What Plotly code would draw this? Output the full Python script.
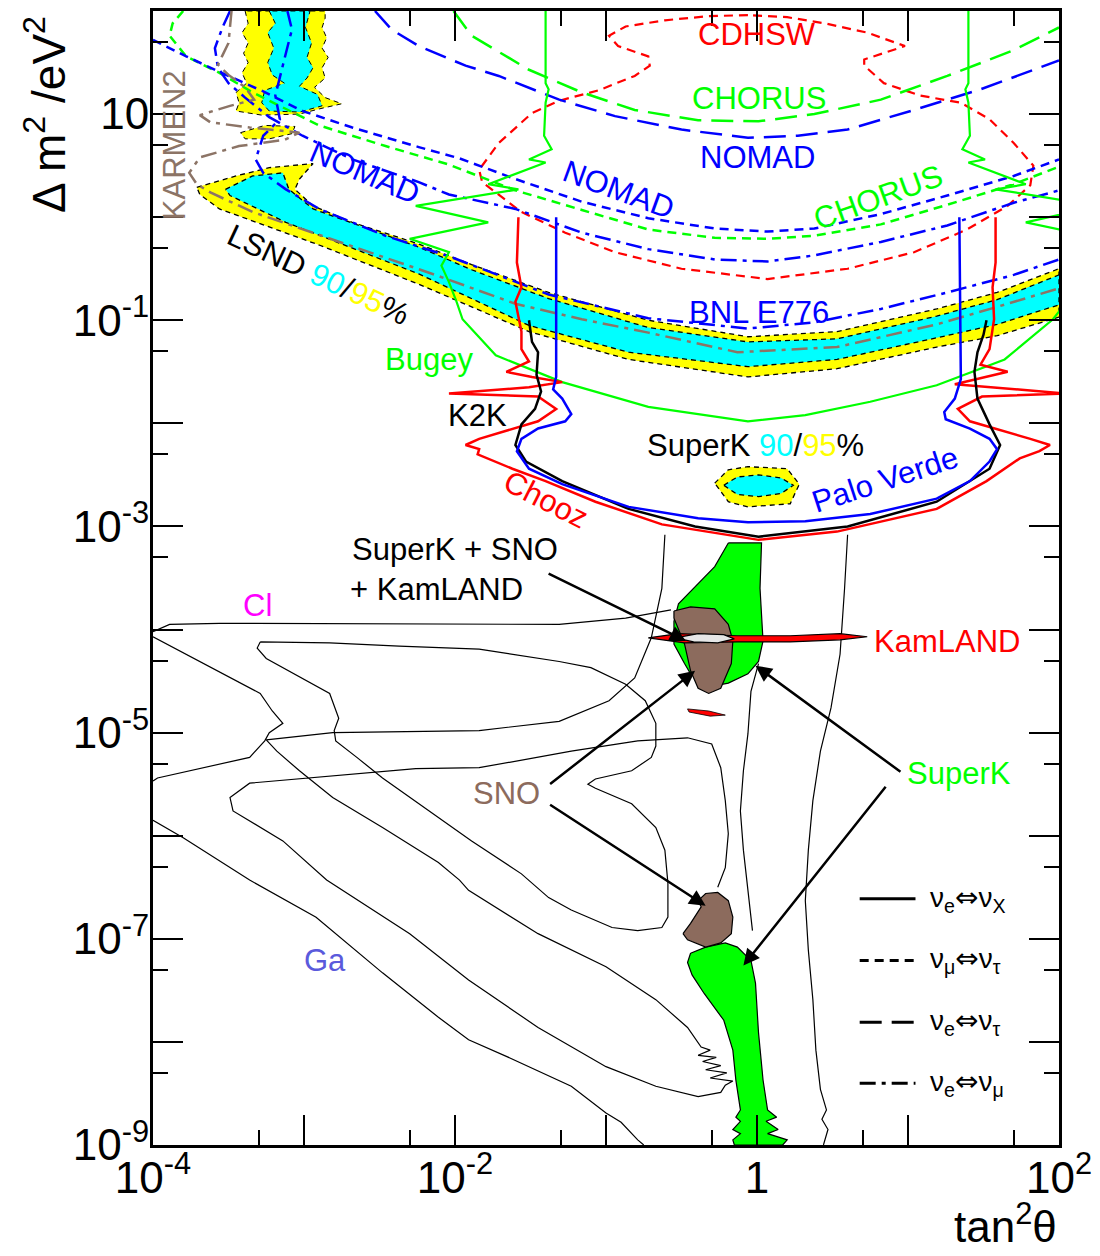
import plotly.graph_objects as go

FONT = "Liberation Sans, Arial, Helvetica, sans-serif"
GREEN, BLUE, RED = "#00FF00", "#0000FF", "#FF0000"
CYAN, YELLOW = "#00FFFF", "#FFFF00"
SNO_BROWN, K_BROWN = "#8C6B5D", "#8C7466"

# ---------------- data: (log10 tan^2(theta), log10 dm^2/eV^2) ----------------
CDHSW = [(-0.06,1.96),(-0.32,1.95),(-0.61,1.91),(-0.87,1.85),(-0.98,1.76),(-0.92,1.66),(-0.72,1.56),
         (-0.71,1.47),(-0.81,1.37),(-1.05,1.23),(-1.31,1.13),(-1.49,1.01),(-1.71,0.72),(-1.84,0.46),
         (-1.82,0.34),(-1.56,0.05),(-1.27,-0.15),(-0.94,-0.34),(-0.50,-0.50),(0.07,-0.60),(0.60,-0.50),
         (1.04,-0.34),(1.39,-0.12),(1.66,0.11),(1.81,0.31),(1.83,0.50),(1.70,0.72),(1.54,0.95),
         (1.35,1.11),(1.08,1.18),(0.84,1.30),(0.71,1.47),(0.71,1.53),(0.98,1.66),(0.73,1.79),
         (0.45,1.88),(0.20,1.94),(-0.06,1.96)]
CHORUS_ETAU = [(-2.01,2.00),(-1.89,1.76),(-1.51,1.43),(-1.16,1.21),(-0.81,1.04),(-0.39,0.94),(0.01,0.93),
               (0.38,1.00),(0.82,1.14),(1.26,1.37),(1.70,1.62),(2.00,1.84)]
NOMAD_ETAU = [(-2.53,2.00),(-2.42,1.82),(-2.24,1.66),(-1.93,1.47),(-1.71,1.37),(-1.31,1.14),(-0.94,0.98),
              (-0.50,0.85),(-0.06,0.77),(0.27,0.79),(0.60,0.85),(1.04,1.04),(1.48,1.24),(2.00,1.52)]
CHORUS_MUTAU = [(-3.80,2.00),(-3.87,1.88),(-3.89,1.76),(-3.78,1.56),(-3.56,1.40),(-3.34,1.21),(-2.90,0.89),
                (-2.46,0.69),(-2.04,0.51),(-1.60,0.26),(-1.16,0.07),(-0.72,-0.12),(-0.28,-0.20),(0.07,-0.21),
                (0.38,-0.18),(0.82,-0.07),(1.26,0.12),(1.70,0.32),(2.00,0.49)]
NOMAD_MUTAU = [(-4.00,1.72),(-3.78,1.56),(-3.56,1.41),(-3.27,1.22),(-3.01,1.03),(-2.68,0.87),(-2.24,0.68),
               (-1.97,0.57),(-1.60,0.37),(-1.16,0.15),(-0.72,-0.01),(-0.28,-0.11),(0.07,-0.14),(0.38,-0.11),
               (0.82,0.03),(1.26,0.21),(1.70,0.40),(2.00,0.56)]
NOMAD_EMU = [(-3.49,2.00),(-3.54,1.84),(-3.59,1.64),(-3.57,1.45),(-3.50,1.30),(-3.39,1.16),(-3.23,0.97),
             (-3.01,0.79),(-2.68,0.56),(-2.24,0.34),(-2.04,0.22),(-1.60,0.08),(-1.16,-0.15),(-0.72,-0.31),
             (-0.28,-0.41),(0.07,-0.43),(0.38,-0.37),(0.82,-0.24),(1.26,-0.08),(1.70,0.14),(2.00,0.26)]
BNL_E776 = [(-3.11,2.00),(-3.08,1.82),(-3.12,1.59),(-3.16,1.37),(-3.19,1.18),(-3.16,0.95),(-3.27,0.79),
            (-3.32,0.56),(-3.27,0.43),(-3.12,0.27),(-2.90,0.08),(-2.46,-0.18),(-2.02,-0.39),(-1.38,-0.75),
            (-0.72,-0.98),(-0.06,-1.08),(0.38,-1.02),(0.82,-0.89),(1.26,-0.73),(1.70,-0.56),(2.00,-0.41)]
KARMEN2 = [(-3.48,2.00),(-3.49,1.84),(-3.50,1.69),(-3.54,1.57),(-3.57,1.48),(-3.50,1.38),(-3.39,1.26),
           (-3.33,1.14),(-3.49,1.08),(-3.69,0.99),(-3.62,0.92),(-3.36,0.87),(-3.03,0.82),(-3.13,0.75),
           (-3.43,0.69),(-3.69,0.58),(-3.76,0.43),(-3.71,0.32),(-3.62,0.24),(-3.34,0.05),(-2.83,-0.21),
           (-2.13,-0.56),(-1.60,-0.84),(-1.16,-0.99),(-0.72,-1.12),(-0.13,-1.31),(0.53,-1.26),
           (1.19,-1.04),(1.59,-0.87),(2.00,-0.69)]
LSND_95 = [(-3.71,0.29),(-3.45,0.40),(-3.23,0.48),(-2.94,0.52),(-3.03,0.37),(-3.06,0.27),(-2.94,0.11),
           (-2.68,-0.05),(-2.24,-0.26),(-1.89,-0.46),(-1.38,-0.73),(-0.72,-1.00),(-0.06,-1.16),(0.53,-1.11),
           (1.19,-0.89),(1.59,-0.73),(2.00,-0.50),(2.00,-0.97),(1.59,-1.15),(1.19,-1.26),(0.53,-1.47),
           (-0.06,-1.55),(-0.85,-1.38),(-1.51,-1.11),(-1.89,-0.87),(-2.24,-0.65),(-2.90,-0.27),
           (-3.56,0.08),(-3.69,0.22)]
LSND_90 = [(-3.52,0.27),(-3.34,0.40),(-3.14,0.43),(-3.10,0.27),(-2.94,0.08),(-2.24,-0.29),(-1.89,-0.51),
           (-1.38,-0.79),(-0.72,-1.07),(-0.06,-1.21),(0.53,-1.18),(1.19,-0.96),(1.59,-0.80),(2.00,-0.56),
           (2.00,-0.85),(1.59,-1.04),(1.19,-1.17),(0.53,-1.38),(-0.06,-1.45),(-0.85,-1.31),(-1.51,-1.05),
           (-1.89,-0.79),(-2.24,-0.55),(-3.12,-0.05),(-3.49,0.21)]
LSND_95_HIGH = [(-3.39,2.00),(-3.37,1.88),(-3.41,1.79),(-3.37,1.69),(-3.40,1.59),(-3.37,1.50),(-3.41,1.40),
                (-3.38,1.30),(-3.45,1.21),(-3.43,1.11),(-3.45,1.03),(-3.28,0.99),(-3.03,1.00),(-2.90,1.05),
                (-2.75,1.10),(-2.86,1.16),(-2.93,1.26),(-2.86,1.35),(-2.88,1.45),(-2.84,1.55),(-2.88,1.64),
                (-2.85,1.74),(-2.88,1.84),(-2.86,1.93),(-2.86,2.00)]
LSND_90_HIGH = [(-3.23,2.00),(-3.19,1.88),(-3.24,1.79),(-3.20,1.64),(-3.24,1.50),(-3.21,1.38),(-3.13,1.30),
                (-3.26,1.23),(-3.28,1.11),(-3.23,1.03),(-3.03,1.02),(-2.88,1.08),(-2.91,1.19),(-3.03,1.27),
                (-2.98,1.35),(-2.94,1.45),(-2.98,1.55),(-2.95,1.69),(-2.99,1.84),(-2.96,2.00)]
LSND_95_SLIVER = [(-3.42,0.82),(-3.26,0.89),(-3.06,0.88),(-3.08,0.81),(-3.23,0.76),(-3.39,0.76)]
SK_ATM_95 = [(-0.28,-2.58),(-0.19,-2.45),(-0.06,-2.42),(0.20,-2.44),(0.28,-2.59),(0.22,-2.78),
             (-0.06,-2.81),(-0.19,-2.76)]
SK_ATM_90 = [(-0.22,-2.60),(-0.13,-2.52),(0.01,-2.50),(0.16,-2.53),(0.24,-2.60),(0.16,-2.68),
             (0.01,-2.71),(-0.13,-2.69)]
PALO_VERDE = [(-1.33,0.00),(-1.33,-1.55),(-1.35,-1.67),(-1.29,-1.76),(-1.23,-1.91),(-1.27,-1.98),
              (-1.45,-2.05),(-1.56,-2.15),(-1.59,-2.27),(-1.51,-2.44),(-1.29,-2.59),(-0.85,-2.81),
              (-0.39,-2.92),(-0.06,-2.96),(0.32,-2.95),(0.75,-2.88),(1.19,-2.73),(1.41,-2.56),(1.54,-2.37),
              (1.59,-2.25),(1.54,-2.15),(1.41,-2.05),(1.25,-1.96),(1.24,-1.89),(1.31,-1.76),(1.35,-1.57),
              (1.34,0.00)]
K2K = [(-1.51,-1.00),(-1.49,-1.21),(-1.45,-1.31),(-1.46,-1.53),(-1.43,-1.69),(-1.47,-1.86),(-1.56,-2.01),
       (-1.60,-2.21),(-1.53,-2.37),(-1.29,-2.56),(-0.85,-2.83),(-0.41,-3.00),(0.01,-3.10),(0.60,-3.00),
       (1.19,-2.76),(1.54,-2.44),(1.61,-2.21),(1.54,-2.01),(1.46,-1.76),(1.44,-1.50),(1.46,-1.31),
       (1.50,-1.14),(1.52,-1.00)]
CHOOZ = [(-1.58,0.00),(-1.59,-0.44),(-1.56,-0.68),(-1.60,-0.82),(-1.56,-1.11),(-1.56,-1.28),(-1.51,-1.40),
         (-1.66,-1.50),(-1.49,-1.55),(-1.29,-1.60),(-1.51,-1.65),(-2.04,-1.71),(-1.45,-1.74),(-1.33,-1.86),
         (-1.45,-1.98),(-1.84,-2.15),(-1.93,-2.21),(-1.84,-2.25),(-1.85,-2.30),(-1.62,-2.44),(-1.40,-2.56),
         (-1.07,-2.76),(-0.63,-2.98),(0.01,-3.13),(0.53,-3.05),(1.19,-2.83),(1.52,-2.56),(1.74,-2.34),
         (1.87,-2.27),(1.94,-2.21),(1.81,-2.15),(1.41,-1.98),(1.33,-1.86),(1.49,-1.74),(2.04,-1.71),
         (1.31,-1.62),(1.66,-1.50),(1.48,-1.43),(1.54,-1.28),(1.57,-0.99),(1.56,-0.68),(1.58,-0.44),
         (1.58,0.00)]
BUGEY = [(-1.40,2.00),(-1.40,1.30),(-1.38,1.24),(-1.40,1.11),(-1.41,0.79),(-1.36,0.66),(-1.51,0.56),
         (-1.40,0.53),(-1.78,0.32),(-1.58,0.27),(-2.26,0.11),(-1.78,-0.05),(-2.30,-0.21),(-2.04,-0.34),
         (-2.09,-0.47),(-2.04,-0.63),(-1.99,-0.82),(-1.95,-0.99),(-1.73,-1.34),(-1.51,-1.47),(-1.29,-1.60),
         (-0.72,-1.84),(-0.06,-1.98),(0.32,-1.92),(0.75,-1.79),(1.19,-1.63),(1.64,-1.38),(1.96,-0.99),
         (2.05,-0.82),(2.09,-0.47),(2.30,-0.21),(1.78,-0.05),(2.26,0.11),(1.58,0.27),(1.78,0.32),
         (1.40,0.53),(1.51,0.56),(1.36,0.66),(1.41,0.79),(1.40,1.11),(1.38,1.24),(1.40,1.30),(1.40,2.00)]

# solar-neutrino region
SK_LMA = [(-0.19,-3.16),(0.03,-3.16),(0.02,-3.60),(0.04,-4.11),(0.01,-4.31),(-0.06,-4.43),(-0.19,-4.52),
          (-0.30,-4.55),(-0.44,-4.43),(-0.48,-4.33),(-0.55,-4.14),(-0.55,-3.92),(-0.52,-3.75),
          (-0.37,-3.53),(-0.28,-3.39)]
SNO_LMA = [(-0.55,-3.82),(-0.44,-3.78),(-0.28,-3.80),(-0.19,-3.95),(-0.16,-4.11),(-0.17,-4.33),
           (-0.24,-4.57),(-0.32,-4.62),(-0.39,-4.57),(-0.44,-4.40),(-0.48,-4.14),(-0.55,-3.89)]
KAMLAND = [(-0.72,-4.08),(-0.52,-4.04),(-0.13,-4.06),(0.22,-4.06),(0.55,-4.04),(0.73,-4.07),(0.55,-4.10),
           (0.22,-4.12),(-0.13,-4.12),(-0.48,-4.13)]
KAMLAND_ISLAND = [(-0.46,-4.77),(-0.32,-4.79),(-0.21,-4.83),(-0.31,-4.84),(-0.45,-4.80)]
COMBINED = [(-0.54,-4.08),(-0.39,-4.04),(-0.22,-4.05),(-0.15,-4.09),(-0.26,-4.13),(-0.42,-4.12)]
SNO_LOW = [(-0.49,-6.95),(-0.44,-6.85),(-0.37,-6.69),(-0.39,-6.63),(-0.34,-6.56),(-0.26,-6.55),
           (-0.19,-6.63),(-0.16,-6.79),(-0.17,-6.95),(-0.24,-7.04),(-0.34,-7.08),(-0.46,-7.01)]
SK_LOW = [(-0.44,-7.14),(-0.34,-7.08),(-0.21,-7.04),(-0.13,-7.08),(-0.04,-7.21),(-0.01,-7.43),
          (0.01,-7.91),(0.04,-8.37),(0.07,-8.66),(0.13,-8.73),(0.06,-8.77),(0.14,-8.85),(0.07,-8.89),
          (0.20,-8.95),(0.17,-9.00),(-0.15,-9.00),(-0.16,-8.95),(-0.11,-8.89),(-0.16,-8.85),(-0.11,-8.77),
          (-0.14,-8.73),(-0.11,-8.66),(-0.14,-8.37),(-0.16,-8.08),(-0.22,-7.79),(-0.35,-7.53),
          (-0.43,-7.35),(-0.46,-7.23)]
CL_A = [(-4.00,-4.02),(-3.89,-3.95),(-3.56,-3.94),(-1.84,-3.95),(-1.31,-3.95),(-0.87,-3.89),(-0.57,-3.81)]
CL_B = [(-4.00,-4.07),(-3.91,-4.14),(-3.58,-4.40),(-3.29,-4.62),(-3.21,-4.79),(-3.14,-4.91),(-3.23,-5.00),
        (-3.26,-5.08),(-3.36,-5.24),(-3.97,-5.44),(-4.00,-5.47)]
CL_LOOP = [(-3.29,-4.12),(-2.83,-4.13),(-2.37,-4.16),(-1.84,-4.19),(-1.31,-4.31),(-1.10,-4.37),(-0.87,-4.53),
           (-0.74,-4.69),(-0.67,-4.91),(-0.67,-5.13),(-0.70,-5.24),(-0.83,-5.37),(-1.07,-5.45),(-1.12,-5.50),
           (-1.07,-5.54),(-0.83,-5.69),(-0.67,-5.92),(-0.61,-6.14),(-0.59,-6.46),(-0.59,-6.79),(-0.63,-6.89),
           (-0.79,-6.92),(-0.96,-6.89),(-1.23,-6.72),(-1.38,-6.60),(-1.56,-6.37),(-1.89,-6.05),(-2.11,-5.82),
           (-2.48,-5.44),(-2.65,-5.24),(-2.79,-5.08),(-2.80,-4.98),(-2.77,-4.86),(-2.83,-4.62),(-3.25,-4.28),
           (-3.31,-4.18),(-3.29,-4.12)]
GA_D = [(-0.61,-3.08),(-0.63,-3.60),(-0.70,-4.08),(-0.81,-4.47),(-0.98,-4.69),(-1.31,-4.89),(-1.84,-4.98),
        (-2.81,-5.00),(-3.25,-5.07),(-3.18,-5.18),(-3.03,-5.37),(-2.81,-5.63),(-2.48,-5.92),(-2.11,-6.26),
        (-1.97,-6.43),(-1.91,-6.53),(-1.45,-6.95),(-1.00,-7.27),(-0.67,-7.59),(-0.46,-7.86),(-0.37,-8.05),
        (-0.31,-8.08),(-0.39,-8.13),(-0.27,-8.15),(-0.36,-8.19),(-0.24,-8.23),(-0.34,-8.27),(-0.20,-8.30),
        (-0.31,-8.35),(-0.16,-8.38),(-0.21,-8.42),(-0.24,-8.49),(-0.39,-8.53),(-0.67,-8.43),(-1.00,-8.24),
        (-1.45,-7.86),(-1.91,-7.40),(-2.19,-7.08),(-2.30,-6.95),(-2.85,-6.43),(-3.14,-6.05),(-3.47,-5.76),
        (-3.49,-5.63),(-3.36,-5.49),(-2.26,-5.35),(-1.84,-5.34),(-1.23,-5.18),(-0.79,-5.08),(-0.46,-5.05),
        (-0.30,-5.11),(-0.24,-5.34),(-0.21,-5.66),(-0.19,-5.98),(-0.21,-6.31),(-0.26,-6.50)]
GA_F = [(-4.00,-5.85),(-3.80,-6.02),(-3.36,-6.43),(-3.14,-6.61),(-2.92,-6.79),(-2.48,-7.33),(-2.11,-7.76),
        (-1.91,-7.98),(-1.66,-8.14),(-1.23,-8.43),(-1.00,-8.69),(-0.90,-8.78),(-0.79,-8.95),(-0.75,-9.00)]
SOL_R = [(0.60,-3.08),(0.58,-3.60),(0.55,-4.24),(0.49,-4.76),(0.42,-5.18),(0.37,-5.66),(0.34,-6.14),
         (0.32,-6.63),(0.34,-7.11),(0.37,-7.59),(0.39,-8.08),(0.42,-8.46),(0.46,-8.66),(0.43,-8.75),
         (0.47,-8.85),(0.44,-9.00)]
SOL_M = [(0.01,-4.33),(-0.04,-4.60),(-0.06,-5.01),(-0.09,-5.37),(-0.11,-5.76),(-0.09,-6.14),(-0.06,-6.53),
         (-0.03,-6.92)]

# arrows: (head lx, head ly, tail lx, tail ly)
ARROWS = [(-0.47,-4.11,-1.39,-3.45), (-0.41,-4.40,-1.38,-5.51), (-0.34,-6.68,-1.38,-5.69),
          (-0.01,-4.35,0.96,-5.39), (-0.09,-7.26,0.86,-5.51)]

# labels: (text, lx, ly, color, angle)
LABELS = [
    ("CDHSW", 0.00, 1.77, RED, 0), ("CHORUS", 0.01, 1.15, GREEN, 0), ("NOMAD", 0.00, 0.58, BLUE, 0),
    ("NOMAD", -0.92, 0.27, BLUE, 20), ("CHORUS", 0.80, 0.19, GREEN, -20), ("NOMAD", -2.60, 0.43, BLUE, 23),
    ("BNL E776", 0.01, -0.92, BLUE, 0), ("Bugey", -2.17, -1.38, GREEN, 0), ("K2K", -1.85, -1.92, "black", 0),
    ("SuperK <span style='color:#00FFFF'>90</span>/<span style='color:#FFFF00'>95</span>%", -0.01, -2.21, "black", 0),
    ("Palo Verde", 0.85, -2.54, BLUE, -18), ("Chooz", -1.40, -2.74, RED, 27),
    ("LSND <span style='color:#00FFFF'>90</span>/<span style='color:#FFFF00'>95</span>%", -2.91, -0.56, "black", 25),
    ("KARMEN2", -3.86, 0.70, K_BROWN, -90),
    ("SuperK + SNO", -2.00, -3.22, "black", 0), ("+ KamLAND", -2.12, -3.61, "black", 0),
    ("KamLAND", 1.26, -4.12, RED, 0), ("SuperK", 1.34, -5.40, GREEN, 0), ("SNO", -1.66, -5.59, SNO_BROWN, 0),
    ("Cl", -3.31, -3.77, "#FF00FF", 0), ("Ga", -2.86, -7.21, "#5A5ADC", 0),
]

ARROW_SYM = "<span style='font-family:DejaVu Sans'>⇔</span>"
LEGEND_TEXT = ["ν<sub>e</sub>" + ARROW_SYM + "ν<sub>X</sub>", "ν<sub>μ</sub>" + ARROW_SYM + "ν<sub>τ</sub>",
               "ν<sub>e</sub>" + ARROW_SYM + "ν<sub>τ</sub>", "ν<sub>e</sub>" + ARROW_SYM + "ν<sub>μ</sub>"]

X_TICKS = [1e-4, 1e-3, 1e-2, 1e-1, 1, 10, 100]
X_TICKTEXT = ["10<sup>-4</sup>", "", "10<sup>-2</sup>", "", "1", "", "10<sup>2</sup>"]
X_MINOR = [5e-4, 5e-3, 5e-2, 0.5, 5, 50]
Y_TICKS = [10.0 ** k for k in range(-9, 3)]
Y_TICKTEXT = ["10<sup>-9</sup>", "", "10<sup>-7</sup>", "", "10<sup>-5</sup>", "", "10<sup>-3</sup>", "",
              "10<sup>-1</sup>", "", "10", ""]
Y_MINOR = [5 * 10.0 ** k for k in range(-9, 2)]

# line styles
SOLID = "solid"
MUTAU = "9px,6px"
ETAU = "22px,10px"
EMU = "16px,6px,4px,6px"
OUTLINE = "5px,4px"

fig = go.Figure()


def xy(pts):
    return [10 ** p[0] for p in pts], [10 ** p[1] for p in pts]


def line(pts, color, width=2.5, dash=SOLID):
    x, y = xy(pts)
    fig.add_trace(go.Scatter(x=x, y=y, mode="lines", hoverinfo="skip", showlegend=False,
                             line=dict(color=color, width=width, dash=dash)))


def region(pts, fill, width=1.2, dash=SOLID, lcolor="black"):
    x, y = xy(list(pts) + [pts[0]])
    fig.add_trace(go.Scatter(x=x, y=y, mode="lines", fill="toself", fillcolor=fill, hoverinfo="skip",
                             showlegend=False, line=dict(color=lcolor, width=width, dash=dash)))


# thin solar contours (Cl, Ga)
for c in (CL_A, CL_B, CL_LOOP, GA_D, GA_F, SOL_R, SOL_M):
    line(c, "black", 1.2)

# solar regions
region(SK_LMA, GREEN)
region(SK_LOW, GREEN)
region(SNO_LMA, SNO_BROWN)
region(SNO_LOW, SNO_BROWN)
region(KAMLAND, RED)
region(KAMLAND_ISLAND, RED, 0.8)
region(COMBINED, "#E6E6E6")

# LSND and SuperK atmospheric
region(LSND_95, YELLOW, 1.3, OUTLINE)
region(LSND_90, CYAN, 1.3, OUTLINE)
region(LSND_95_HIGH, YELLOW, 1.0, OUTLINE)
region(LSND_90_HIGH, CYAN, 1.0, OUTLINE)
region(LSND_95_SLIVER, YELLOW, 1.0, OUTLINE)
region(SK_ATM_95, YELLOW, 1.3, OUTLINE)
region(SK_ATM_90, CYAN, 1.3, OUTLINE)

# exclusion curves
line(CDHSW, RED, 2.2, MUTAU)
line(CHORUS_ETAU, GREEN, 2.5, ETAU)
line(NOMAD_ETAU, BLUE, 2.5, ETAU)
line(CHORUS_MUTAU, GREEN, 2.5, MUTAU)
line(NOMAD_MUTAU, BLUE, 2.5, MUTAU)
line(NOMAD_EMU, BLUE, 2.5, EMU)
line(BNL_E776, BLUE, 2.5, EMU)
line(KARMEN2, K_BROWN, 2.5, EMU)
line(BUGEY, GREEN, 2.2)
line(CHOOZ, RED, 2.5)
line(K2K, "black", 2.5)
line(PALO_VERDE, BLUE, 2.5)

ann = []
for t, lx, ly, col, ang in LABELS:
    ann.append(dict(x=lx, y=ly, xref="x", yref="y", text=t, showarrow=False, textangle=ang,
                    font=dict(family=FONT, size=31, color=col), xanchor="center", yanchor="middle"))
for hx, hy, tx, ty in ARROWS:
    ann.append(dict(x=hx, y=hy, xref="x", yref="y", ax=tx, ay=ty, axref="x", ayref="y", text="",
                    showarrow=True, arrowhead=2, arrowsize=1.3, arrowwidth=2.5, arrowcolor="black"))

# legend (paper coordinates)
LEG_Y = [0.2172, 0.1627, 0.1082, 0.0545]
LEG_DASH = [SOLID, MUTAU, ETAU, EMU]
shapes = []
for yy, d, t in zip(LEG_Y, LEG_DASH, LEGEND_TEXT):
    shapes.append(dict(type="line", xref="paper", yref="paper", x0=0.780, x1=0.8416, y0=yy, y1=yy,
                       line=dict(color="black", width=3, dash=d)))
    ann.append(dict(x=0.855, y=yy, xref="paper", yref="paper", text=t, showarrow=False,
                    xanchor="left", yanchor="middle", font=dict(family=FONT, size=28, color="black")))

# axis titles
ann.append(dict(x=1.0, y=-0.0955, xref="paper", yref="paper", text="tan<sup>2</sup>θ", showarrow=False,
                xanchor="right", yanchor="bottom", font=dict(family=FONT, size=44, color="black")))
ann.append(dict(x=-0.119, y=0.9085, xref="paper", yref="paper", text="Δ m<sup>2</sup> /eV<sup>2</sup>",
                showarrow=False, textangle=-90, xanchor="center", yanchor="middle",
                font=dict(family=FONT, size=46, color="black")))

axis_common = dict(type="log", showgrid=False, zeroline=False, showline=True, linewidth=3,
                   linecolor="black", mirror="ticks", ticks="inside", ticklen=30, tickwidth=1.5,
                   tickcolor="black", tickmode="array", ticklabelstandoff=-8,
                   tickfont=dict(family=FONT, size=44, color="black"))
fig.update_xaxes(range=[-4, 2], tickvals=X_TICKS, ticktext=X_TICKTEXT,
                 minor=dict(tickmode="array", tickvals=X_MINOR, ticks="inside", ticklen=15, tickwidth=1.5,
                            tickcolor="black", showgrid=False), **axis_common)
fig.update_yaxes(range=[-9, 2], tickvals=Y_TICKS, ticktext=Y_TICKTEXT,
                 minor=dict(tickmode="array", tickvals=Y_MINOR, ticks="inside", ticklen=15, tickwidth=1.5,
                            tickcolor="black", showgrid=False), **axis_common)
fig.update_layout(width=1100, height=1256, margin=dict(l=153, r=38, t=8, b=111),
                  paper_bgcolor="white", plot_bgcolor="white", showlegend=False,
                  font=dict(family=FONT, color="black"), annotations=ann, shapes=shapes)

fig.write_html("out.html", config={"displayModeBar": False})
